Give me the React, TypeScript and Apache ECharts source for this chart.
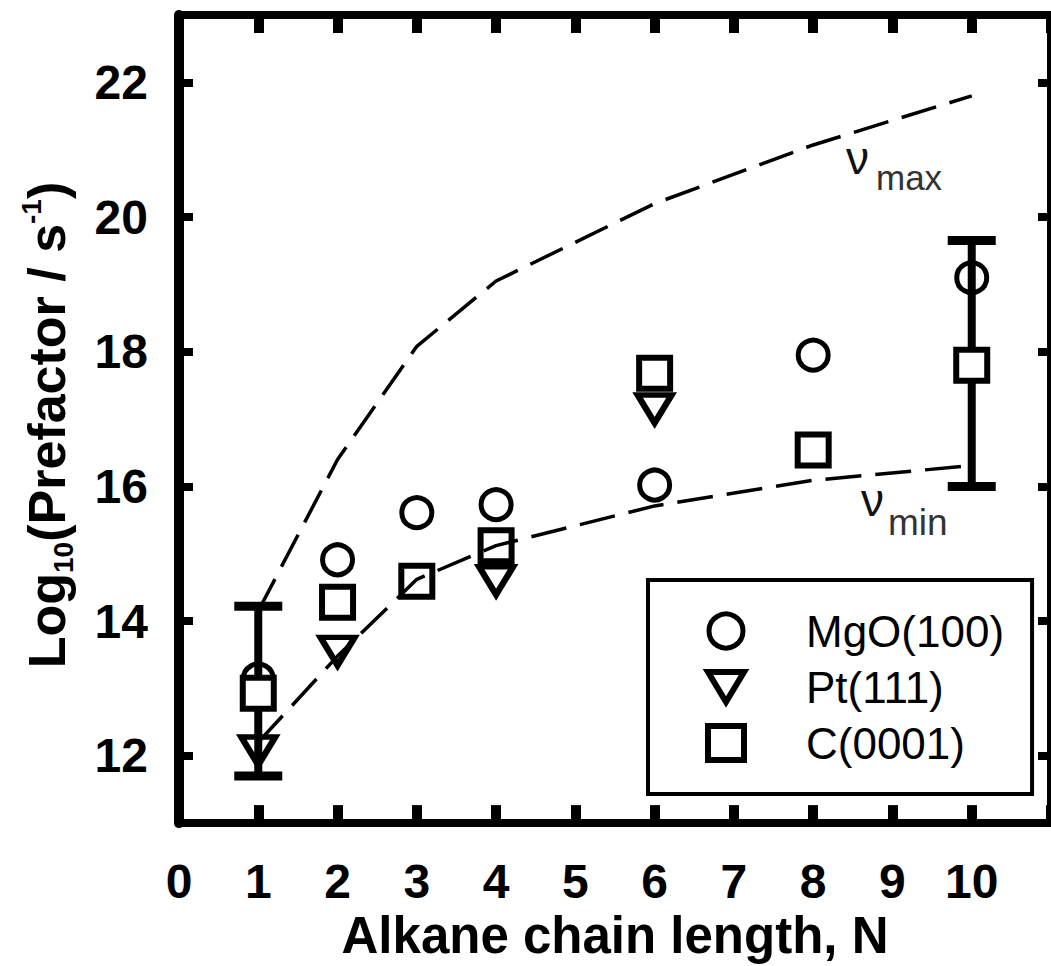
import React, { useEffect, useRef } from "react";
import * as echarts from "echarts";

const FONT = "'Liberation Sans', Arial, sans-serif";

const xTicks = [0, 1, 2, 3, 4, 5, 6, 7, 8, 9, 10];
const yTicks = [12, 14, 16, 18, 20, 22];

const mgoN = [1, 2, 3, 4, 6, 8, 10];
const mgoVal = [13.14, 14.91, 15.61, 15.73, 16.02, 17.95, 19.1];

const ptN = [1, 2, 4, 6];
const ptVal = [12.07, 13.55, 14.6, 17.15];

const cN = [1, 2, 3, 4, 6, 8, 10];
const cVal = [12.93, 14.28, 14.59, 15.12, 17.68, 16.54, 17.8];

const curveN = [1, 2, 3, 4, 6, 8, 10];
const vmaxVal = [14.15, 16.4, 18.08, 19.05, 20.2, 21.07, 21.8];
const vminVal = [12.2, 13.48, 14.62, 15.12, 15.71, 16.09, 16.31];

const errN = [1, 10];
const errLow = [11.7, 16.0];
const errHigh = [14.22, 19.65];

const legendNames = ["MgO(100)", "Pt(111)", "C(0001)"];

const zip = (a: number[], b: number[]) => a.map((v, i) => [v, b[i]]);

export default function App() {
  const ref = useRef<HTMLDivElement>(null);
  useEffect(() => {
    document.body.style.margin = "0";
    const chart = echarts.init(ref.current!, null, { renderer: "svg" });
    const axisLineStyle = { color: "#000", width: 8 };
    const circleStyle = { color: "#fff", borderColor: "#000", borderWidth: 5, opacity: 1 };
    const triStyle = { color: "#fff", borderColor: "#000", borderWidth: 6, opacity: 1 };
    const rectStyle = { color: "#fff", borderColor: "#000", borderWidth: 6, opacity: 1 };
    chart.setOption({
      animation: false,
      backgroundColor: "#fff",
      grid: { left: 179, right: 0, top: 15, bottom: 137, containLabel: false },
      legend: {
        data: [
          { name: legendNames[0], itemStyle: circleStyle },
          { name: legendNames[1], itemStyle: triStyle },
          { name: legendNames[2], itemStyle: rectStyle },
        ],
        orient: "vertical",
        left: 648,
        top: 580,
        padding: [29, 28, 29, 57],
        itemWidth: 36,
        itemHeight: 34,
        itemGap: 12,
        borderColor: "#000",
        borderWidth: 4,
        backgroundColor: "#fff",
        textStyle: {
          fontFamily: FONT,
          fontSize: 44,
          color: "#000",
          padding: [0, 0, 0, 57],
        },
      },
      xAxis: [
        {
          type: "value",
          position: "bottom",
          min: 0,
          max: 11,
          interval: 1,
          axisLine: { show: true, onZero: false, lineStyle: axisLineStyle },
          axisTick: { show: true, inside: true, length: 18, lineStyle: { color: "#000", width: 10 } },
          axisLabel: {
            show: true,
            margin: 34,
            fontSize: 48,
            fontWeight: "bold",
            fontFamily: FONT,
            color: "#000",
            customValues: xTicks,
          },
          splitLine: { show: false },
          name: "Alkane chain length, N",
          nameLocation: "middle",
          nameGap: 84,
          nameTextStyle: { fontSize: 51, fontWeight: "bold", fontFamily: FONT, color: "#000" },
        },
        {
          type: "value",
          position: "top",
          min: 0,
          max: 11,
          interval: 1,
          axisLine: { show: true, onZero: false, lineStyle: axisLineStyle },
          axisTick: { show: true, inside: true, length: 18, lineStyle: { color: "#000", width: 10 } },
          axisLabel: { show: false },
          splitLine: { show: false },
        },
      ],
      yAxis: [
        {
          type: "value",
          position: "left",
          min: 11,
          max: 23,
          axisLine: { show: true, onZero: false, lineStyle: { color: "#000", width: 10 } },
          axisTick: {
            show: true,
            inside: true,
            length: 14,
            customValues: yTicks,
            lineStyle: { color: "#000", width: 8 },
          },
          axisLabel: {
            show: true,
            margin: 31,
            fontSize: 48,
            fontWeight: "bold",
            fontFamily: FONT,
            color: "#000",
            customValues: yTicks,
          },
          splitLine: { show: false },
        },
        {
          type: "value",
          position: "right",
          min: 11,
          max: 23,
          axisLine: { show: true, onZero: false, lineStyle: axisLineStyle },
          axisTick: {
            show: true,
            inside: true,
            length: 13,
            customValues: yTicks,
            lineStyle: { color: "#000", width: 8 },
          },
          axisLabel: { show: false },
          splitLine: { show: false },
        },
      ],
      series: [
        {
          name: "MgO(100)",
          type: "scatter",
          z: 2,
          symbol: "circle",
          symbolSize: 30,
          itemStyle: circleStyle,
          emphasis: { disabled: true },
          data: zip(mgoN, mgoVal),
        },
        {
          name: "Pt(111)",
          type: "scatter",
          z: 3,
          symbol: "path://M0,0 L12,0 L6,10 Z",
          symbolSize: [34, 28],
          itemStyle: triStyle,
          emphasis: { disabled: true },
          data: zip(ptN, ptVal),
        },
        {
          name: "errorbars",
          type: "custom",
          z: 4,
          encode: { x: 0, y: [1, 2] },
          data: errN.map((n, i) => [n, errLow[i], errHigh[i]]),
          renderItem: (params: any, api: any) => {
            const x = api.value(0);
            const lo = api.coord([x, api.value(1)]);
            const hi = api.coord([x, api.value(2)]);
            const hw = 24;
            const st = { stroke: "#000", lineWidth: 8 };
            return {
              type: "group",
              children: [
                { type: "line", shape: { x1: lo[0], y1: lo[1], x2: hi[0], y2: hi[1] }, style: st },
                { type: "line", shape: { x1: lo[0] - hw, y1: lo[1], x2: lo[0] + hw, y2: lo[1] }, style: { ...st, lineWidth: 9 } },
                { type: "line", shape: { x1: hi[0] - hw, y1: hi[1], x2: hi[0] + hw, y2: hi[1] }, style: { ...st, lineWidth: 9 } },
              ],
            };
          },
        },
        {
          name: "C(0001)",
          type: "scatter",
          z: 5,
          symbol: "rect",
          symbolSize: 31,
          itemStyle: rectStyle,
          emphasis: { disabled: true },
          data: zip(cN, cVal),
        },
        {
          name: "vmax",
          type: "line",
          z: 6,
          symbol: "none",
          lineStyle: { color: "#000", width: 3.5, type: [36, 14] },
          data: zip(curveN, vmaxVal),
        },
        {
          name: "vmin",
          type: "line",
          z: 6,
          symbol: "none",
          lineStyle: { color: "#000", width: 3.5, type: [36, 14] },
          data: zip(curveN, vminVal),
        },
      ],
      graphic: [
        {
          type: "text",
          x: 47,
          y: 425,
          rotation: Math.PI / 2,
          style: {
            text: "{b|Log}{sub|10}{b|(Prefactor / s}{sup|-1}{b|)}",
            align: "center",
            verticalAlign: "middle",
            fill: "#000",
            rich: {
              b: { fontSize: 52, fontWeight: "bold", fontFamily: FONT, lineHeight: 60, verticalAlign: "middle", fill: "#000" },
              sub: { fontSize: 28, fontWeight: "bold", fontFamily: FONT, lineHeight: 28, verticalAlign: "bottom", fill: "#000" },
              sup: { fontSize: 28, fontWeight: "bold", fontFamily: FONT, lineHeight: 28, verticalAlign: "top", fill: "#000" },
            },
          },
        },
        {
          type: "text",
          x: 846,
          y: 181,
          style: { text: "ν", fontSize: 46, fontFamily: FONT, fill: "#111", verticalAlign: "bottom", align: "left" },
        },
        {
          type: "text",
          x: 876,
          y: 195,
          style: { text: "max", fontSize: 35, fontFamily: FONT, fill: "#333", verticalAlign: "bottom", align: "left" },
        },
        {
          type: "text",
          x: 861,
          y: 523,
          style: { text: "ν", fontSize: 46, fontFamily: FONT, fill: "#111", verticalAlign: "bottom", align: "left" },
        },
        {
          type: "text",
          x: 888,
          y: 541,
          style: { text: "min", fontSize: 37, fontFamily: FONT, fill: "#333", verticalAlign: "bottom", align: "left" },
        },
      ],
    });
    return () => chart.dispose();
  }, []);
  return <div ref={ref} style={{ width: 1051, height: 966 }} />;
}
